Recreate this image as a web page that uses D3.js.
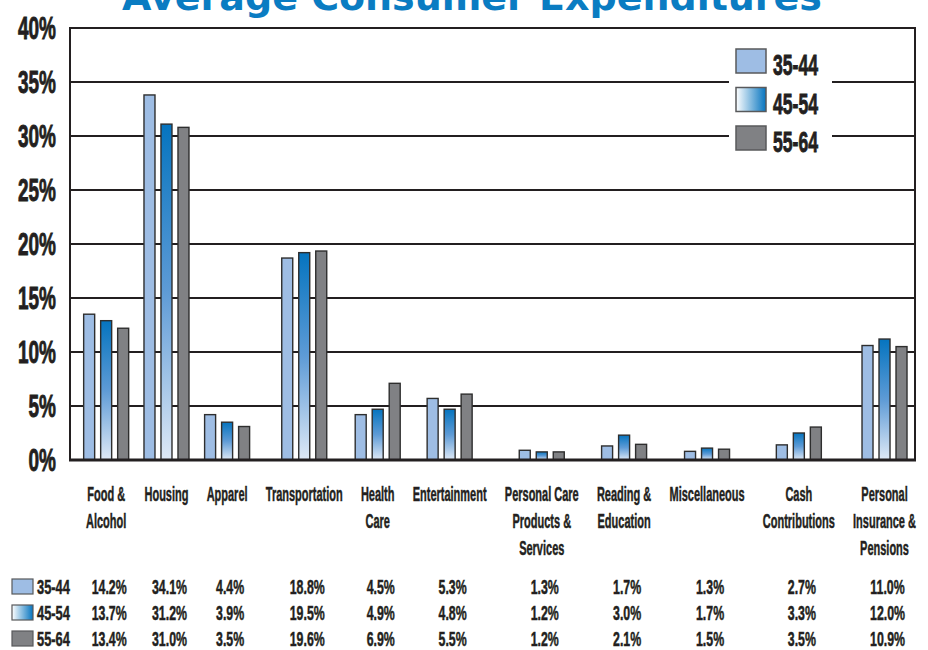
<!DOCTYPE html>
<html>
<head>
<meta charset="utf-8">
<script src="https://cdn.jsdelivr.net/npm/d3@7"></script>
<style>
  html, body { margin: 0; padding: 0; background: #fff; }
  svg { display: block; }
</style>
</head>
<body>
<svg id="chart" width="928" height="650"></svg>
<script>
// ---------------- data ----------------
const title = "Average Consumer Expenditures";
const categories = [
  ["Food &", "Alcohol"],
  ["Housing"],
  ["Apparel"],
  ["Transportation"],
  ["Health", "Care"],
  ["Entertainment"],
  ["Personal Care", "Products &", "Services"],
  ["Reading &", "Education"],
  ["Miscellaneous"],
  ["Cash", "Contributions"],
  ["Personal", "Insurance &", "Pensions"]
];
const series = ["35-44", "45-54", "55-64"];
// bar heights as drawn in the picture (%)
const bars3544 = [13.5, 33.8, 4.2, 18.7, 4.2, 5.7, 0.9, 1.3, 0.8, 1.4, 10.6];
const bars4554 = [12.9, 31.1, 3.5, 19.2, 4.7, 4.7, 0.75, 2.3, 1.1, 2.5, 11.2];
const bars5564 = [12.2, 30.8, 3.1, 19.35, 7.1, 6.1, 0.75, 1.45, 1.0, 3.05, 10.5];
// values printed in the table (%)
const table3544 = [14.2, 34.1, 4.4, 18.8, 4.5, 5.3, 1.3, 1.7, 1.3, 2.7, 11.0];
const table4554 = [13.7, 31.2, 3.9, 19.5, 4.9, 4.8, 1.2, 3.0, 1.7, 3.3, 12.0];
const table5564 = [13.4, 31.0, 3.5, 19.6, 6.9, 5.5, 1.2, 2.1, 1.5, 3.5, 10.9];
const yTicks = [0, 5, 10, 15, 20, 25, 30, 35, 40];

// ---------------- setup ----------------
const svg = d3.select("#chart");
const FONT = "'Liberation Sans Narrow', 'Liberation Sans', Arial, sans-serif";
const DARK = "#231f20";
const catKeys = categories.map(c => c.join(" "));
const barSeries = [bars3544, bars4554, bars5564];
const tableSeries = [table3544, table4554, table5564];

const plot = { left: 70, right: 915, top: 28, bottom: 460 };

// calibrate horizontal compression of a text style
function calib(sample, size, target, family, weight) {
  const t = svg.append("text").attr("font-family", family || FONT)
    .attr("font-weight", weight || "bold").attr("font-size", size).text(sample);
  const w = t.node().getComputedTextLength();
  t.remove();
  return target / w;
}
const sTick = calib("40%", 31, 38);
const sCat = calib("Transportation", 21, 77);
const sVal = calib("14.2%", 21, 35);
const sTabLeg = calib("35-44", 21, 33);
const sLeg = calib("35-44", 30, 45);
const TITLE_FONT = "'DejaVu Sans', Arial, sans-serif";
const sTitle = calib(title, 38, 700, TITLE_FONT, 900);

function sText(sel, x, y, sx, size, txt, anchor, sw) {
  return sel.append("text")
    .attr("transform", `translate(${x},${y}) scale(${sx},1)`)
    .attr("font-family", FONT).attr("font-weight", "bold")
    .attr("font-size", size).attr("fill", DARK)
    .attr("stroke", DARK).attr("stroke-width", sw || 0.5)
    .attr("text-anchor", anchor || "start").text(txt);
}

// defs: gradients
const defs = svg.append("defs");
const gV = defs.append("linearGradient").attr("id", "gradV")
  .attr("x1", 0).attr("y1", 0).attr("x2", 0).attr("y2", 1);
gV.append("stop").attr("offset", "0%").attr("stop-color", "#0574bf");
gV.append("stop").attr("offset", "50%").attr("stop-color", "#5e9bd6");
gV.append("stop").attr("offset", "100%").attr("stop-color", "#dfe9f6");
const gH = defs.append("linearGradient").attr("id", "gradH")
  .attr("x1", 0).attr("y1", 0).attr("x2", 1).attr("y2", 0);
gH.append("stop").attr("offset", "0%").attr("stop-color", "#ffffff");
gH.append("stop").attr("offset", "100%").attr("stop-color", "#0574bf");
const fills = ["#9ebde4", "url(#gradV)", "#808184"];
const legFills = ["#9ebde4", "url(#gradH)", "#808184"];

// ---------------- scales ----------------
const y = d3.scaleLinear().domain([0, 40]).range([plot.bottom, plot.top]);

// column layout from measured label widths
const widths = categories.map(lines => {
  let m = 0;
  lines.forEach(l => {
    const t = svg.append("text").attr("font-family", FONT).attr("font-weight", "bold")
      .attr("font-size", 21).text(l);
    m = Math.max(m, t.node().getComputedTextLength() * sCat);
    t.remove();
  });
  return m;
});
const colStart = 86, colEnd = 916;
const gap = (colEnd - colStart - d3.sum(widths)) / (categories.length - 1);
let acc = colStart;
const centers = widths.map(w => { const c = acc + w / 2; acc += w + gap; return c; });
const x = d3.scaleOrdinal().domain(catKeys).range(centers);
const xInner = d3.scaleBand().domain(series).range([-22.5, 22.5]).paddingInner(0.353);

// ---------------- title ----------------
svg.append("text")
  .attr("transform", `translate(472,10) scale(${sTitle},1)`)
  .attr("font-family", TITLE_FONT).attr("font-weight", 900)
  .attr("font-size", 38).attr("fill", "#0a7cc2")
  .attr("text-anchor", "middle").text(title);

// ---------------- gridlines & frame ----------------
svg.append("g").selectAll("line").data(yTicks.filter(t => t > 0 && t < 40)).join("line")
  .attr("x1", plot.left).attr("x2", plot.right)
  .attr("y1", d => y(d)).attr("y2", d => y(d))
  .attr("stroke", DARK).attr("stroke-width", 2);

svg.append("rect")
  .attr("x", plot.left).attr("y", plot.top)
  .attr("width", plot.right - plot.left).attr("height", plot.bottom - plot.top)
  .attr("fill", "none").attr("stroke", DARK).attr("stroke-width", 2);

// tick labels
const tickG = svg.append("g");
yTicks.forEach(t => {
  sText(tickG, 56, y(t), sTick, 31, t + "%", "end", 0.9).attr("dy", "0.36em");
});

// legend (inside plot) with white backing
svg.append("rect").attr("x", 729).attr("y", 40).attr("width", 103).attr("height", 120).attr("fill", "#fff");
const legG = svg.append("g");
series.forEach((s, i) => {
  const top = 49 + i * 38.5;
  legG.append("rect").attr("x", 736).attr("y", top).attr("width", 30).attr("height", 24)
    .attr("fill", legFills[i]).attr("stroke", "#58595b").attr("stroke-width", 1.5);
  sText(legG, 773, top + 26, sLeg, 30, s, "start", 0.9);
});

// ---------------- bars ----------------
const barG = svg.append("g");
series.forEach((s, i) => {
  barG.append("g").selectAll("rect").data(barSeries[i]).join("rect")
    .attr("x", (d, k) => x(catKeys[k]) + xInner(s))
    .attr("y", d => y(d))
    .attr("width", xInner.bandwidth())
    .attr("height", d => y(0) - y(d))
    .attr("fill", fills[i])
    .attr("stroke", "#2e2e2e").attr("stroke-width", 1.4);
});

// bottom axis line
svg.append("line").attr("x1", plot.left - 1).attr("x2", plot.right + 1)
  .attr("y1", y(0)).attr("y2", y(0)).attr("stroke", DARK).attr("stroke-width", 3);

// ---------------- category labels ----------------
const catG = svg.append("g");
categories.forEach((lines, k) => {
  lines.forEach((l, j) => {
    sText(catG, x(catKeys[k]), 501 + j * 27, sCat, 21, l, "middle", 0.5);
  });
});

// ---------------- table ----------------
const tabG = svg.append("g");
series.forEach((s, i) => {
  const base = 594 + i * 26;
  tabG.append("rect").attr("x", 12).attr("y", base - 15).attr("width", 21).attr("height", 15)
    .attr("fill", legFills[i]).attr("stroke", "#58595b").attr("stroke-width", 1.2);
  sText(tabG, 37, base, sTabLeg, 21, s, "start", 0.5);
  tableSeries[i].forEach((v, k) => {
    sText(tabG, x(catKeys[k]) + 3, base, sVal, 21, v.toFixed(1) + "%", "middle", 0.5);
  });
});
</script>
</body>
</html>
